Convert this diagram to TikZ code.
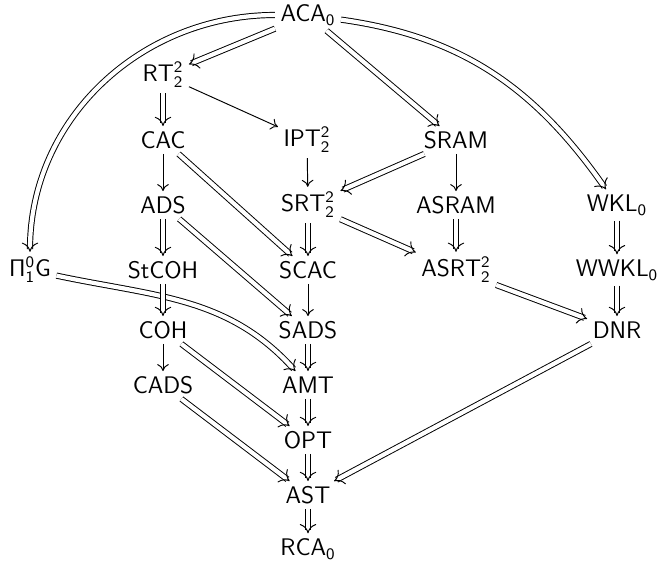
\documentclass[tikz,border=0pt]{standalone}
\usetikzlibrary{arrows.meta}
\begin{document}
\begin{tikzpicture}[x=0.5pt,y=-0.5pt,
  every node/.style={font=\fontsize{11.6}{14}\selectfont, inner sep=2.6pt},
  sarr/.style={line width=0.48pt, -{To[length=3.5pt,width=5.8pt]}},
  % double shaft first, then a single open head on top of it
  darr/.style={line width=0.48pt, -{To[length=4.6pt,width=8.2pt]},
    dash pattern=on 0pt off 3000pt,
    preaction={draw, solid, -, double, double distance=2.1pt, shorten >=1.4pt}}]
\useasboundingbox (0,0) rectangle (659,561);

% nodes
\node (aca)   at (308,15)  {$\mathsf{ACA_0}$};
\node (rt)    at (163,75)  {$\mathsf{RT^2_2}$};
\node (cac)   at (163,140) {$\mathsf{CAC}$};
\node (ipt)   at (307,140) {$\mathsf{IPT^2_2}$};
\node (sram)  at (456,140) {$\mathsf{SRAM}$};
\node (ads)   at (163,205) {$\mathsf{ADS}$};
\node (srt)   at (308,205) {$\mathsf{SRT^2_2}$};
\node (asram) at (456,205) {$\mathsf{ASRAM}$};
\node (wkl)   at (617,205) {$\mathsf{WKL_0}$};
\node (pig)   at (30,270)  {$\mathsf{\Pi^0_1G}$};
\node (stcoh) at (163,270) {$\mathsf{StCOH}$};
\node (scac)  at (308,270) {$\mathsf{SCAC}$};
\node (asrt)  at (456,270) {$\mathsf{ASRT^2_2}$};
\node (wwkl)  at (617,270) {$\mathsf{WWKL_0}$};
\node (coh)   at (163,330) {$\mathsf{COH}$};
\node (sads)  at (308,330) {$\mathsf{SADS}$};
\node (dnr)   at (617,330) {$\mathsf{DNR}$};
\node (cads)  at (163,385) {$\mathsf{CADS}$};
\node (amt)   at (308,385) {$\mathsf{AMT}$};
\node (opt)   at (308,440) {$\mathsf{OPT}$};
\node (ast)   at (308,495) {$\mathsf{AST}$};
\node (rca)   at (308,549) {$\mathsf{RCA_0}$};

% implications
\draw[darr] (aca) -- (rt);
\draw[darr] (aca) -- (sram);
\draw[darr] (aca) to[out=-8,in=125] (wkl);
\draw[darr] (aca) to[out=180,in=90] (pig);
\draw[darr] (rt) -- (cac);
\draw[sarr] (rt) -- (ipt);
\draw[sarr] (ipt) -- (srt);
\draw[sarr] (cac) -- (ads);
\draw[darr] (cac) -- (scac);
\draw[darr] (sram) -- (srt);
\draw[sarr] (sram) -- (asram);
\draw[darr] (ads) -- (stcoh);
\draw[darr] (ads) -- (sads);
\draw[darr] (srt) -- (scac);
\draw[darr] (srt) -- (asrt);
\draw[darr] (asram) -- (asrt);
\draw[darr] (wkl) -- (wwkl);
\draw[darr] (pig) to[out=-12,in=132] (amt);
\draw[darr] (stcoh) -- (coh);
\draw[sarr] (scac) -- (sads);
\draw[darr] (asrt) -- (dnr);
\draw[darr] (wwkl) -- (dnr);
\draw[sarr] (coh) -- (cads);
\draw[darr] (coh) -- (opt);
\draw[darr] (sads) -- (amt);
\draw[darr] (dnr) -- (ast);
\draw[darr] (cads) -- (ast);
\draw[darr] (amt) -- (opt);
\draw[darr] (opt) -- (ast);
\draw[darr] (ast) -- (rca);
\end{tikzpicture}
\end{document}
